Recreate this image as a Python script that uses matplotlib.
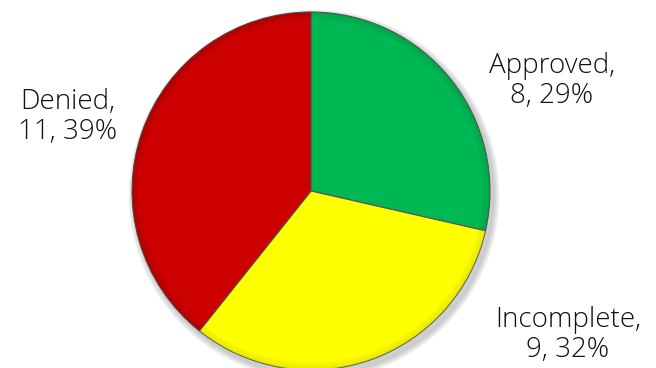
import matplotlib.pyplot as plt
from matplotlib.patches import Wedge, Circle

# dados
categorias = ['Approved', 'Incomplete', 'Denied']
valores = [8, 9, 11]
cores = ['#00B853', '#FFFF00', '#CC0000']
cores_borda = ['#008a3c', '#c8c800', '#8a0000']

# posicoes dos rotulos (em pixels da figura)
pos_rotulos = [(552, 287), (568, 33), (68, 251)]

plt.rcParams['font.family'] = ['Open Sans', 'DejaVu Sans']

fig = plt.figure(figsize=(6.56, 3.68), dpi=100)
ax = fig.add_axes([0, 0, 1, 1])

centro = (311, 177)
raio = 179

# sombra suave atras da pizza
for i in range(8):
    sombra = Circle((centro[0] + 3, centro[1] - 4), raio + 6 - i * 0.8,
                    color='black', alpha=0.025, zorder=0)
    ax.add_patch(sombra)

fatias, _ = ax.pie(valores, colors=cores, startangle=90, counterclock=False,
                   radius=raio, center=centro, frame=True,
                   wedgeprops=dict(linewidth=0.8, edgecolor='#555555'))
ax.set_xlim(0, 656)
ax.set_ylim(0, 368)
ax.set_aspect('equal')
ax.axis('off')

# efeito de relevo na borda de cada fatia
for f, cb in zip(fatias, cores_borda):
    for k in range(6):
        w = Wedge(centro, raio - k * 1.2, f.theta1, f.theta2,
                  width=1.4, color=cb, alpha=0.35 - k * 0.05,
                  linewidth=0, zorder=3)
        ax.add_patch(w)

total = sum(valores)
for nome, v, (x, y) in zip(categorias, valores, pos_rotulos):
    pct = round(100 * v / total)
    ax.text(x, y, f'{nome},\n{v}, {pct}%', ha='center', va='center',
            fontsize=20, fontweight='light', color='#111111', linespacing=1.1)

fig.savefig('out.png', dpi=100)
